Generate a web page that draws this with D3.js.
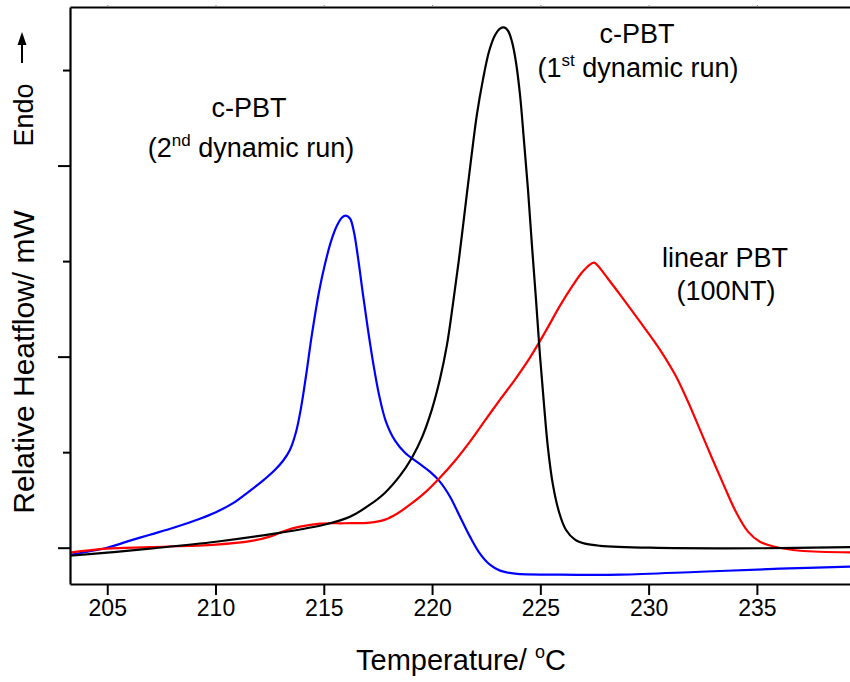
<!DOCTYPE html>
<html>
<head>
<meta charset="utf-8">
<script src="https://cdn.jsdelivr.net/npm/d3@7"></script>
<style>
  body { margin: 0; background: #fff; }
  svg { display: block; }
  text { font-family: "Liberation Sans", Arial, sans-serif; fill: #000; }
</style>
</head>
<body>
<svg id="chart" width="850" height="682"></svg>
<script>
// DSC heating scans: temperature (°C) vs relative heat flow (arbitrary units, endo up)
const xTicks = [205, 210, 215, 220, 225, 230, 235];

const run1Temp = [203.28, 204.99, 206.97, 210.02, 213.02, 215.01, 216.21, 217.13, 217.83, 218.52, 219.07, 219.53, 219.99, 220.36, 220.69, 220.96, 221.24, 221.52, 221.80, 222.07, 222.35, 222.63, 222.90, 223.14, 223.32, 223.50, 223.69, 223.87, 224.06, 224.24, 224.43, 224.61, 224.80, 224.98, 225.17, 225.35, 225.58, 225.86, 226.18, 226.60, 227.06, 227.75, 230.06, 235.14, 239.30];
const run1Flow = [-0.042, -0.026, -0.005, 0.031, 0.079, 0.120, 0.162, 0.225, 0.288, 0.377, 0.471, 0.576, 0.723, 0.880, 1.063, 1.272, 1.508, 1.770, 2.031, 2.267, 2.450, 2.597, 2.681, 2.717, 2.723, 2.707, 2.649, 2.545, 2.372, 2.136, 1.874, 1.586, 1.298, 1.010, 0.749, 0.524, 0.330, 0.188, 0.094, 0.042, 0.021, 0.010, 0.000, -0.003, 0.003];

const run2Temp = [203.28, 204.99, 206.05, 206.97, 208.13, 209.28, 210.02, 210.81, 211.59, 212.19, 212.75, 213.12, 213.44, 213.72, 213.95, 214.18, 214.45, 214.78, 215.05, 215.33, 215.61, 215.84, 216.02, 216.21, 216.39, 216.58, 216.81, 217.04, 217.27, 217.55, 217.87, 218.29, 218.75, 219.35, 219.90, 220.36, 220.83, 221.29, 221.75, 222.21, 222.67, 223.14, 223.83, 225.91, 228.68, 232.37, 236.06, 239.30];
const run2Flow = [-0.037, 0.000, 0.037, 0.068, 0.107, 0.152, 0.186, 0.233, 0.298, 0.351, 0.408, 0.455, 0.513, 0.607, 0.733, 0.900, 1.115, 1.340, 1.482, 1.602, 1.686, 1.728, 1.738, 1.723, 1.654, 1.518, 1.325, 1.141, 0.974, 0.801, 0.660, 0.560, 0.497, 0.445, 0.398, 0.346, 0.267, 0.162, 0.058, -0.031, -0.089, -0.120, -0.136, -0.141, -0.141, -0.126, -0.110, -0.099];

const linTemp = [203.28, 204.99, 206.97, 210.02, 211.59, 212.51, 213.21, 213.90, 214.82, 215.98, 217.13, 217.83, 218.38, 218.98, 219.67, 220.36, 221.06, 221.75, 222.44, 223.14, 223.83, 224.52, 225.21, 225.91, 226.46, 226.92, 227.29, 227.48, 227.66, 227.98, 228.68, 229.60, 230.52, 231.22, 231.82, 232.37, 232.92, 233.48, 234.03, 234.59, 235.14, 235.83, 236.99, 239.30];
const linFlow = [-0.026, -0.005, 0.003, 0.016, 0.034, 0.058, 0.089, 0.110, 0.126, 0.128, 0.131, 0.147, 0.178, 0.225, 0.288, 0.366, 0.455, 0.555, 0.665, 0.775, 0.880, 0.995, 1.126, 1.267, 1.366, 1.440, 1.482, 1.492, 1.476, 1.429, 1.325, 1.183, 1.037, 0.906, 0.764, 0.618, 0.471, 0.325, 0.188, 0.084, 0.031, 0.005, -0.016, -0.024];

const series = [
  { name: "c-PBT 2nd run", temp: run2Temp, flow: run2Flow, color: "#0000ff" },
  { name: "linear PBT", temp: linTemp, flow: linFlow, color: "#ff0000" },
  { name: "c-PBT 1st run", temp: run1Temp, flow: run1Flow, color: "#000000" }
];

const svg = d3.select("#chart");
const plot = { left: 70, right: 850, top: 7, bottom: 584 };

const x = d3.scaleLinear().domain([203.28, 239.3]).range([plot.left, plot.right]);
const y = d3.scaleLinear().domain([-0.19, 2.83]).range([plot.bottom, plot.top]);

// Curves
const line = d3.line().x(d => x(d[0])).y(d => y(d[1])).curve(d3.curveCatmullRom.alpha(0.5));
svg.append("g").selectAll("path").data(series).join("path")
  .attr("d", s => line(s.temp.map((t, i) => [t, s.flow[i]])))
  .attr("fill", "none")
  .attr("stroke", s => s.color)
  .attr("stroke-width", 2.2)
  .attr("stroke-linejoin", "round");

// Bottom axis
const xAxis = svg.append("g").attr("transform", `translate(0,${plot.bottom})`)
  .call(d3.axisBottom(x).tickValues(xTicks).tickSize(11).tickSizeOuter(0).tickPadding(5));
xAxis.select(".domain").attr("stroke-width", 2.2);
xAxis.selectAll(".tick line").attr("stroke-width", 2);
xAxis.selectAll(".tick text").attr("font-size", 23).attr("font-family", "Liberation Sans, Arial, sans-serif");

// Top axis (frame line with tiny ticks)
const topAxis = svg.append("g").attr("transform", `translate(0,${plot.top})`)
  .call(d3.axisTop(x).tickValues(xTicks).tickSize(2).tickSizeOuter(0).tickFormat(""));
topAxis.select(".domain").attr("stroke-width", 2.2);
topAxis.selectAll(".tick line").attr("stroke", "#888").attr("stroke-width", 1);

// Left axis: long ticks at major steps, short ticks between
const yMajor = [0, 1, 2];
const yMinor = [0.5, 1.5, 2.5];
const yAxisG = svg.append("g").attr("transform", `translate(${plot.left},0)`)
  .call(d3.axisLeft(y).tickValues(yMajor).tickSize(12).tickSizeOuter(0).tickFormat(""));
yAxisG.select(".domain").attr("stroke-width", 2.2);
yAxisG.selectAll(".tick line").attr("stroke-width", 2);
const yMinorG = svg.append("g").attr("transform", `translate(${plot.left},0)`)
  .call(d3.axisLeft(y).tickValues(yMinor).tickSize(7).tickSizeOuter(0).tickFormat(""));
yMinorG.select(".domain").remove();
yMinorG.selectAll(".tick line").attr("stroke-width", 2);

// Axis titles
const xt = svg.append("text").attr("x", 461).attr("y", 670).attr("text-anchor", "middle").attr("font-size", 29);
xt.append("tspan").text("Temperature/ ");
xt.append("tspan").attr("dy", -12).attr("font-size", 18).text("o");
xt.append("tspan").attr("dy", 12).text("C");

svg.append("text").attr("transform", "translate(34,362) rotate(-90)")
  .attr("text-anchor", "middle").attr("font-size", 30).text("Relative Heatflow/ mW");
svg.append("text").attr("transform", "translate(33,115) rotate(-90)")
  .attr("text-anchor", "middle").attr("font-size", 27).text("Endo");

// Endo arrow
svg.append("line").attr("x1", 22).attr("x2", 22).attr("y1", 63).attr("y2", 44)
  .attr("stroke", "#000").attr("stroke-width", 2);
svg.append("path").attr("d", "M22,32 L17.5,45 L26.5,45 Z").attr("fill", "#000");

// Curve labels
function label(cx, by, main, sup, rest) {
  const t = svg.append("text").attr("x", cx).attr("y", by).attr("text-anchor", "middle").attr("font-size", 27);
  t.append("tspan").text(main);
  if (sup) {
    t.append("tspan").attr("dy", -11).attr("font-size", 17).text(sup);
    t.append("tspan").attr("dy", 11).text(rest);
  }
}
label(249, 117, "c-PBT");
label(251, 157, "(2", "nd", " dynamic run)");
label(637, 43, "c-PBT");
label(638, 77, "(1", "st", " dynamic run)");
label(725, 267, "linear PBT");
label(726, 300, "(100NT)");
</script>
</body>
</html>
